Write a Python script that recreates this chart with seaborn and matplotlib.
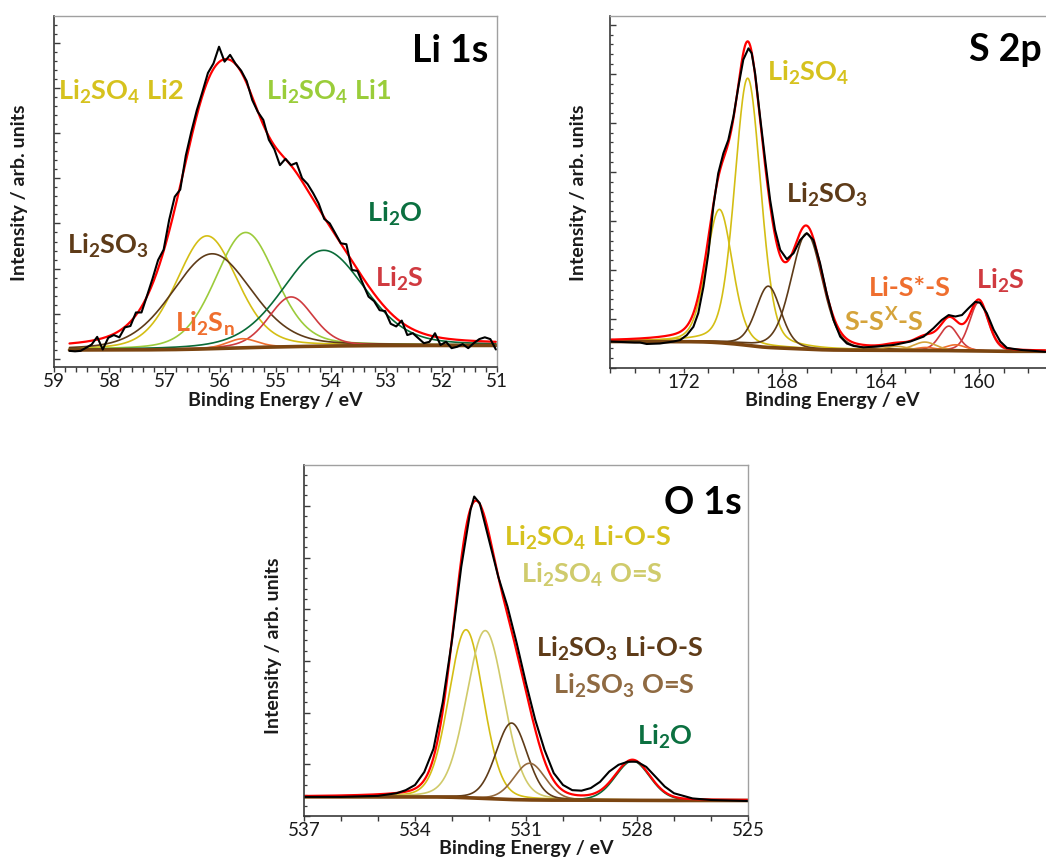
import numpy as np
import matplotlib
matplotlib.use("Agg")
import matplotlib.pyplot as plt
from matplotlib.ticker import MultipleLocator, NullFormatter
import seaborn as sns

sns.set_style("ticks")
plt.rcParams["font.family"] = ["Lato", "DejaVu Sans"]
plt.rcParams["mathtext.default"] = "regular"

# ---------------------------------------------------------------- Li 1s
li_names = ["Li2SO4 Li2", "Li2SO4 Li1", "Li2SO3", "Li2O", "Li2S", "Li2Sn"]
li_centers = [56.24, 55.54, 56.15, 54.13, 54.72, 55.60]
li_heights = [2.50, 2.55, 2.10, 2.12, 1.10, 0.20]
li_fwhm = [1.30, 1.30, 1.70, 1.75, 0.95, 0.65]
li_colors = ["#D4BE14", "#9CCB3B", "#5E3B18", "#0A6B38", "#CF3B3F", "#EF6E2E"]
li_bg_high, li_bg_low = 0.20, 0.30
li_counts = [0.18, 0.17, 0.18, 0.25, 0.32, 0.49, 0.21, 0.47, 0.53, 0.48,
             0.70, 0.73, 1.03, 1.03, 1.40, 1.78, 2.19, 2.42, 3.08, 3.59,
             3.75, 4.50, 5.03, 5.51, 5.91, 6.33, 6.54, 6.91, 6.58, 6.73,
             6.53, 6.38, 6.15, 5.73, 5.47, 5.29, 4.85, 4.64, 4.29, 4.43,
             4.29, 4.34, 4.00, 3.87, 3.67, 3.44, 3.10, 3.00, 2.78, 2.56,
             2.54, 1.97, 1.95, 1.66, 1.38, 1.28, 1.08, 1.06, 0.78, 0.72,
             0.85, 0.53, 0.57, 0.46, 0.35, 0.38, 0.57, 0.31, 0.38, 0.24,
             0.27, 0.33, 0.24, 0.35, 0.44, 0.48, 0.44, 0.21]
li_energy = np.linspace(58.72, 51.02, len(li_counts))

# ---------------------------------------------------------------- S 2p
s_centers = [169.40, 170.55, 167.00, 168.56, 160.00, 161.22, 160.95, 162.15, 162.20, 163.35]
s_heights = [5.45, 2.72, 2.36, 1.25, 1.00, 0.50, 0.12, 0.06, 0.17, 0.08]
s_fwhm = [1.25, 1.25, 1.50, 1.20, 0.90, 0.90, 1.00, 1.00, 1.10, 1.10]
s_colors = ["#D4BE14", "#D4BE14", "#5E3B18", "#5E3B18", "#CF3B3F", "#CF3B3F",
            "#EF6E2E", "#EF6E2E", "#D5A33A", "#D5A33A"]
s_bg_high, s_bg_low = 0.54, 0.34
s_energy = [175.0, 174.5, 174.0, 173.78, 173.51, 172.97, 172.42, 172.15, 171.88, 171.61,
            171.41, 171.2, 171.0, 170.8, 170.6, 170.39, 170.19, 169.98, 169.78, 169.58,
            169.37, 169.24, 169.1, 168.9, 168.69, 168.49, 168.29, 168.08, 167.81, 167.54,
            167.27, 167.0, 166.73, 166.46, 166.19, 165.91, 165.64, 165.37, 165.1, 164.7,
            164.15, 163.47, 162.79, 162.25, 161.85, 161.51, 161.23, 160.96, 160.69, 160.42,
            160.15, 159.95, 159.68, 159.4, 159.13, 158.86, 158.32, 157.78, 157.3]
s_counts = [0.54, 0.53, 0.52, 0.52, 0.49, 0.50, 0.54, 0.57, 0.67, 0.84,
            1.12, 1.66, 2.34, 3.29, 3.97, 4.38, 4.65, 5.13, 5.74, 6.29,
            6.52, 6.42, 6.01, 5.13, 4.24, 3.43, 2.82, 2.41, 2.22, 2.34,
            2.61, 2.75, 2.61, 2.14, 1.52, 0.98, 0.64, 0.50, 0.45, 0.42,
            0.44, 0.47, 0.54, 0.64, 0.81, 0.98, 1.08, 1.05, 1.08, 1.22,
            1.35, 1.33, 1.12, 0.78, 0.54, 0.41, 0.37, 0.35, 0.33]

# ---------------------------------------------------------------- O 1s
o_centers = [532.62, 532.10, 531.39, 530.90, 528.12]
o_heights = [3.25, 3.25, 1.48, 0.71, 0.76]
o_fwhm = [1.10, 1.20, 1.00, 1.00, 1.10]
o_colors = ["#D4BE14", "#D0CA6A", "#5E3B18", "#93683D", "#0A6B38"]
o_bg_high, o_bg_low = 0.37, 0.30
o_energy = [537.0, 536.0, 535.0, 534.5, 534.25, 534.0, 533.75, 533.5, 533.25, 533.0,
            532.75, 532.5, 532.4, 532.25, 532.0, 531.75, 531.5, 531.25, 531.0, 530.75,
            530.5, 530.25, 530.0, 529.75, 529.5, 529.25, 529.0, 528.75, 528.5, 528.25,
            528.0, 527.75, 527.5, 527.25, 527.0, 526.5, 526.0, 525.5, 525.0]
o_counts = [0.37, 0.37, 0.39, 0.44, 0.50, 0.60, 0.85, 1.30, 2.20, 3.40,
            4.82, 5.92, 6.18, 6.05, 5.34, 4.63, 4.05, 3.34, 2.57, 1.86,
            1.28, 0.83, 0.60, 0.50, 0.49, 0.54, 0.66, 0.86, 0.99, 1.05,
            1.05, 0.95, 0.76, 0.57, 0.44, 0.34, 0.31, 0.30, 0.29]

BG_COLOR = "#7B4511"
LABEL_SIZE = 19.5
TITLE_SIZE = 27
AXIS_LABEL_SIZE = 14


def pseudo_voigt(e, center, height, fwhm, frac):
    x = (e - center) / (fwhm / 2.0)
    return height * ((1 - frac) * np.exp(-np.log(2) * x ** 2) + frac / (1 + x ** 2))


def shirley_background(e, total, high, low):
    order = np.argsort(e)
    cum = np.cumsum(total[order])
    cum = cum / cum[-1]
    bg = np.empty_like(e)
    bg[order] = low + (high - low) * cum
    return bg


def draw_spectrum(ax, energy, counts, centers, heights, fwhms, colors,
                  bg_high, bg_low, frac):
    energy = np.asarray(energy, dtype=float)
    grid = np.linspace(energy.max(), energy.min(), 1200)
    peaks = [pseudo_voigt(grid, c, h, w, frac) for c, h, w in zip(centers, heights, fwhms)]
    total = np.sum(peaks, axis=0)
    bg = shirley_background(grid, total, bg_high, bg_low)
    for p, col in zip(peaks, colors):
        sns.lineplot(x=grid, y=bg + p, ax=ax, color=col, lw=1.2,
                     estimator=None, sort=False, legend=False)
    sns.lineplot(x=grid, y=bg, ax=ax, color=BG_COLOR, lw=2.6,
                 estimator=None, sort=False, legend=False)
    sns.lineplot(x=grid, y=bg + total, ax=ax, color="#FF0000", lw=1.6,
                 estimator=None, sort=False, legend=False)
    sns.lineplot(x=energy, y=counts, ax=ax, color="black", lw=1.5,
                 estimator=None, sort=False, legend=False)


def style_axes(ax, xlim, ylim, xmajor, xminor, xlabel_x, xlabel_y, ylabel_x, ylabel_y):
    ax.set_xlim(*xlim)
    ax.set_ylim(*ylim)
    ax.xaxis.set_major_locator(MultipleLocator(xmajor))
    ax.xaxis.set_minor_locator(MultipleLocator(xminor))
    ax.yaxis.set_major_locator(MultipleLocator(1))
    ax.yaxis.set_minor_locator(MultipleLocator(0.2))
    ax.yaxis.set_major_formatter(NullFormatter())
    ax.tick_params(axis="x", which="both", direction="out", length=3.5, width=1,
                   colors="#3a3a3a", labelsize=13.5, pad=1, labelcolor="#1a1a1a")
    ax.tick_params(axis="y", which="major", direction="in", length=4.5, width=1,
                   colors="#3a3a3a")
    ax.tick_params(axis="y", which="minor", direction="in", length=2.5, width=0.9,
                   colors="#3a3a3a")
    for side in ("left", "bottom"):
        ax.spines[side].set_color("#3a3a3a")
        ax.spines[side].set_linewidth(1.2)
    for side in ("top", "right"):
        ax.spines[side].set_visible(True)
        ax.spines[side].set_color("#a0a0a0")
        ax.spines[side].set_linewidth(1.0)
    ax.set_xlabel("Binding Energy / eV", fontsize=AXIS_LABEL_SIZE, fontweight="bold",
                  color="#1a1a1a")
    ax.set_ylabel("Intensity / arb. units", fontsize=AXIS_LABEL_SIZE, fontweight="bold",
                  color="#1a1a1a")
    ax.xaxis.set_label_coords(xlabel_x, xlabel_y)
    ax.yaxis.set_label_coords(ylabel_x, ylabel_y)


def label(ax, x, y, text, color, size=LABEL_SIZE):
    ax.text(x, y, text, transform=ax.transAxes, ha="left", va="baseline",
            color=color, fontsize=size, fontweight="bold", zorder=10)


W, H = 1046, 861
fig = plt.figure(figsize=(W / 100, H / 100), dpi=100)


def rect(left, top, right, bottom):
    return [left / W, 1 - bottom / H, (right - left) / W, (bottom - top) / H]


ax_li = fig.add_axes(rect(54, 16, 497, 367))
ax_s = fig.add_axes(rect(610, 16, 1065, 368))
ax_o = fig.add_axes(rect(304, 465, 748, 816))

# Li 1s panel
draw_spectrum(ax_li, li_energy, li_counts, li_centers, li_heights, li_fwhm,
              li_colors, li_bg_high, li_bg_low, 0.25)
style_axes(ax_li, (59, 51), (-0.177, 7.59), 1, 0.2, 0.499, -0.072, -0.059, 0.496)
label(ax_li, 0.808, 0.870, "Li 1s", "black", TITLE_SIZE)
label(ax_li, 0.008, 0.761, r"$\mathregular{Li_2SO_4}$ Li2", "#D6C21E")
label(ax_li, 0.479, 0.761, r"$\mathregular{Li_2SO_4}$ Li1", "#9ACD3A")
label(ax_li, 0.029, 0.322, r"$\mathregular{Li_2SO_3}$", "#5E3B18")
label(ax_li, 0.707, 0.414, r"$\mathregular{Li_2O}$", "#0B7040")
label(ax_li, 0.725, 0.229, r"$\mathregular{Li_2S}$", "#D03A40")
label(ax_li, 0.273, 0.101, r"$\mathregular{Li_2S_n}$", "#EF6E2E")

# S 2p panel
draw_spectrum(ax_s, s_energy, s_counts, s_centers, s_heights, s_fwhm,
              s_colors, s_bg_high, s_bg_low, 0.25)
style_axes(ax_s, (175, 156.5), (0, 7.18), 4, 1, 0.488, -0.069, -0.0506, 0.497)
label(ax_s, 0.788, 0.873, "S 2p", "black", TITLE_SIZE)
label(ax_s, 0.345, 0.815, r"$\mathregular{Li_2SO_4}$", "#D6C21E")
label(ax_s, 0.387, 0.470, r"$\mathregular{Li_2SO_3}$", "#5E3B18")
label(ax_s, 0.570, 0.205, "Li-S*-S", "#EF6E2E")
label(ax_s, 0.805, 0.226, r"$\mathregular{Li_2S}$", "#D03A40")
label(ax_s, 0.515, 0.105, r"S-S$\mathregular{^X}$-S", "#D5A33A")

# O 1s panel
draw_spectrum(ax_o, o_energy, o_counts, o_centers, o_heights, o_fwhm,
              o_colors, o_bg_high, o_bg_low, 0.15)
style_axes(ax_o, (537, 525), (0, 6.79), 3, 1, 0.4996, -0.068, -0.0495, 0.484)
label(ax_o, 0.811, 0.860, "O 1s", "black", TITLE_SIZE)
label(ax_o, 0.451, 0.769, r"$\mathregular{Li_2SO_4}$ Li-O-S", "#D6C21E")
label(ax_o, 0.488, 0.665, r"$\mathregular{Li_2SO_4}$ O=S", "#CFCB6C")
label(ax_o, 0.522, 0.454, r"$\mathregular{Li_2SO_3}$ Li-O-S", "#5E3B18")
label(ax_o, 0.560, 0.347, r"$\mathregular{Li_2SO_3}$ O=S", "#8F6A42")
label(ax_o, 0.751, 0.204, r"$\mathregular{Li_2O}$", "#0B7040")

fig.savefig("out.png", dpi=100)
